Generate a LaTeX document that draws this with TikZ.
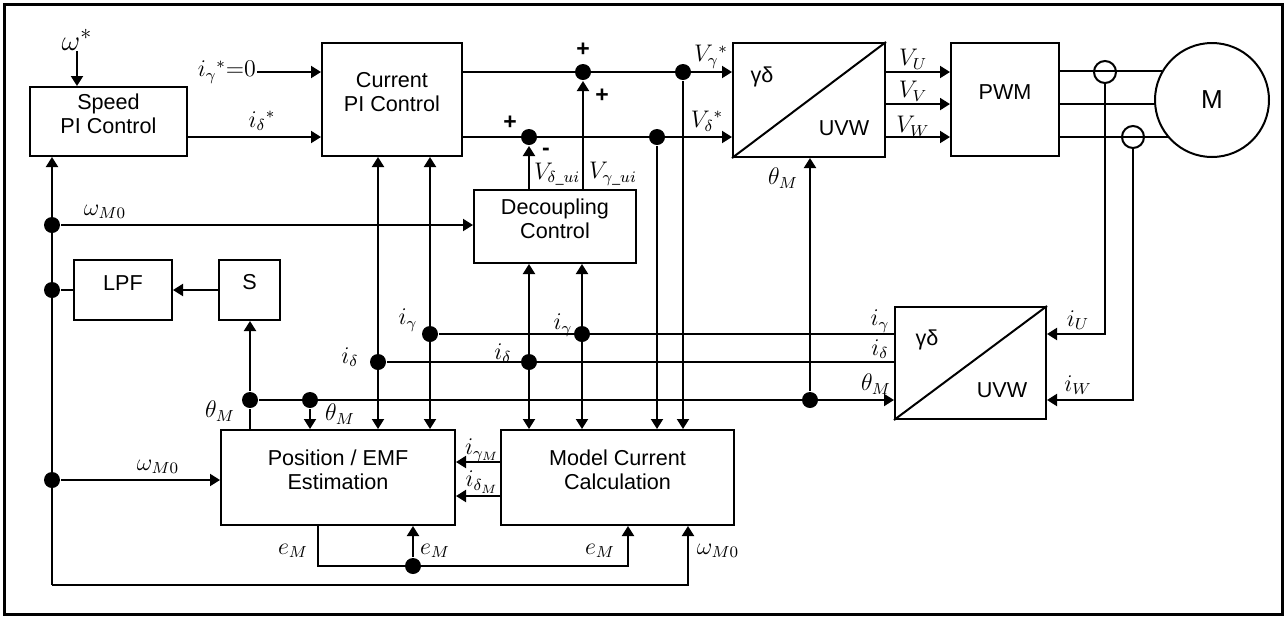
\documentclass[tikz,border=0pt]{standalone}
\usepackage[no-math]{fontspec}
\setmainfont{Liberation Sans}
\usetikzlibrary{arrows.meta,fit}

\tikzset{
  blk/.style={draw, line width=1pt, inner sep=0pt, align=center},
  dot/.style={circle, fill, inner sep=0pt, minimum size=8pt},
  sens/.style={circle, draw, line width=1pt, inner sep=0pt, minimum size=11pt},
  arr/.style={-{Triangle[length=5pt,width=6pt]}},
  arrs/.style={{Triangle[length=5pt,width=6pt]}-{Triangle[length=5pt,width=6pt]}},
  lab/.style={inner sep=0pt, font=\fontsize{11.5}{13}\selectfont},
}

\begin{document}
\begin{tikzpicture}[x=0.5pt,y=-0.5pt,line width=1pt,font=\fontsize{10.8}{11.8}\selectfont]
  \useasboundingbox (0,0) rectangle (1287,617);
  \draw[line width=1.5pt] (4,4) rectangle (1282,614);

  % blocks
  \node[blk, fit={(30,87) (187,156)}] (spd) {Speed\\PI Control};
  \node[blk, fit={(322,43) (462,156)}] (cur) {Current\\PI Control};
  \node[blk, fit={(474,190) (636,263)}] (dec) {Decoupling\\Control};
  \node[blk, fit={(733,43) (885,157)}] (tr1) {};
  \node[blk, fit={(951,43) (1059,156)}] (pwm) {PWM};
  \node[circle, draw, inner sep=0pt, minimum size=57pt, font=\fontsize{13}{14}\selectfont] (mot) at (1212,100) {M};
  \node[blk, fit={(74,260) (172,320)}] (lpf) {LPF};
  \node[blk, fit={(219,260) (280,320)}] (sbx) {S};
  \node[blk, fit={(895,307) (1046,419)}] (tr2) {};
  \node[blk, fit={(221,430) (455,525)}] (pos) {Position / EMF\\Estimation};
  \node[blk, fit={(501,430) (734,525)}] (mdl) {Model Current\\Calculation};
  \draw (tr1.south west) -- (tr1.north east);
  \draw (tr2.south west) -- (tr2.north east);
  \node at (762,77) {γδ};
  \node at (844,128) {UVW};
  \node at (927,340) {γδ};
  \node at (1002,390) {UVW};

  % current sensors
  \node[sens] (cs1) at (1105,72) {};
  \node[sens] (cs2) at (1133,137) {};

  % junctions
  \node[dot] (jsum1) at (583,72) {};
  \node[dot] (jsum2) at (529,137) {};
  \node[dot] (jv1) at (683,72) {};
  \node[dot] (jv2) at (657,137) {};
  \node[dot] (jw1) at (52,225) {};
  \node[dot] (jw2) at (52,290) {};
  \node[dot] (jw3) at (52,480) {};
  \node[dot] (jt1) at (250,400) {};
  \node[dot] (jt2) at (310,400) {};
  \node[dot] (jt3) at (810,400) {};
  \node[dot] (jg1) at (430,334) {};
  \node[dot] (jg2) at (582,334) {};
  \node[dot] (jd1) at (378,362) {};
  \node[dot] (jd2) at (529,362) {};
  \node[dot] (je) at (413,566) {};
  \coordinate (cnr) at (52,585);
  \coordinate (wb) at (688,585);
  \coordinate (e0) at (318,566);
  \coordinate (e1) at (628,566);
  \coordinate (gm) at (501,462);
  \coordinate (dm) at (501,496);

  % labels
  \node[lab, font=\fontsize{15}{16}\selectfont] (lw) at (77,40) {$\omega^*$};
  \node[lab, anchor=east] (lig) at (257,72) {$i_\gamma{}^*{=}0$};
  \node[lab] (lid) at (262,121) {$i_\delta{}^*$};
  \node[lab] (lvg) at (711,57) {$V_\gamma{}^*$};
  \node[lab] (lvd) at (707,121) {$V_\delta{}^*$};
  \node[lab] (pl1) at (583,50) {\textbf{+}};
  \node[lab] (pl2) at (602,96) {\textbf{+}};
  \node[lab] (pl3) at (510,123) {\textbf{+}};
  \node[lab] (mi1) at (546,152) {\textbf{-}};
  \node[lab, anchor=west] (lvdu) at (533,174) {$V_{\delta\mbox{\scriptsize\_}ui}$};
  \node[lab, anchor=west] (lvgu) at (588,174) {$V_{\gamma\mbox{\scriptsize\_}ui}$};
  \node[lab] (lt1) at (783,178) {$\theta_M$};
  \node[lab] (lvu) at (913,59) {$V_U$};
  \node[lab] (lvv) at (913,91) {$V_V$};
  \node[lab] (lvw) at (913,126) {$V_W$};
  \node[lab] (lig2) at (880,321) {$i_\gamma$};
  \node[lab] (lid2) at (880,349) {$i_\delta$};
  \node[lab] (lt2) at (876,384) {$\theta_M$};
  \node[lab] (liu) at (1078,320) {$i_U$};
  \node[lab] (liw) at (1078,385) {$i_W$};
  \node[lab] (lw1) at (105,212) {$\omega_{M0}$};
  \node[lab] (lig3) at (408,320) {$i_\gamma$};
  \node[lab] (lid3) at (350,357) {$i_\delta$};
  \node[lab] (lig4) at (563,325) {$i_\gamma$};
  \node[lab] (lid4) at (503,353) {$i_\delta$};
  \node[lab] (lt3) at (220,411) {$\theta_M$};
  \node[lab] (lt4) at (340,414) {$\theta_M$};
  \node[lab] (lw2) at (158,467) {$\omega_{M0}$};
  \node[lab] (ligm) at (482,450) {$i_{\gamma_M}$};
  \node[lab] (lidm) at (482,482) {$i_{\delta_M}$};
  \node[lab] (le1) at (293,551) {$e_M$};
  \node[lab] (le2) at (435,551) {$e_M$};
  \node[lab] (le3) at (600,551) {$e_M$};
  \node[lab] (lw3) at (718,551) {$\omega_{M0}$};

  % top path
  \draw[arr] (lw.south) -- (lw.south |- spd.north);
  \draw[arr] (lig) -- (lig -| cur.west);
  \draw[arr] (spd.east |- jsum2) -- (cur.west |- jsum2);
  \draw[arr] (cur.east |- jsum1) -- (tr1.west |- jsum1);
  \draw[arr] (cur.east |- jsum2) -- (tr1.west |- jsum2);
  \draw[arr] (dec.north -| jsum1) -- (jsum1);
  \draw[arr] (dec.north -| jsum2) -- (jsum2);
  \draw[arr] (jv1) -- (jv1 |- mdl.north);
  \draw[arr] (jv2) -- (jv2 |- mdl.north);
  \draw[arr] (tr1.east |- jsum1) -- (pwm.west |- jsum1);
  \draw[arr] (tr1.east |- mot.184) -- (pwm.west |- mot.184);
  \draw[arr] (tr1.east |- jsum2) -- (pwm.west |- jsum2);
  \draw (pwm.east |- mot.150.6) -- (mot.150.6);
  \draw (pwm.east |- mot.184) -- (mot.184);
  \draw (pwm.east |- mot.220.5) -- (mot.220.5);
  \draw[arr] (cs1.south) |- (tr2.east |- jg1);
  \draw[arr] (cs2.south) |- (tr2.east |- jt3);

  % feedback
  \draw[arr] (cnr) -- (cnr |- spd.south);
  \draw[arr] (jw1) -- (dec.west |- jw1);
  \draw (lpf.west) -- (jw2);
  \draw[arr] (sbx.west) -- (lpf.east);
  \draw[arr] (jw3) -- (pos.west |- jw3);
  \draw[arr] (jt1) -- (jt1 |- sbx.south);
  \draw (jt1) -- (jt1 |- pos.north);
  \draw[arr] (jt2) -- (jt2 |- pos.north);
  \draw[arr] (jt1) -- (tr2.west |- jt1);
  \draw[arr] (jt3) -- (jt3 |- tr1.south);
  \draw (jg1) -- (tr2.west |- jg1);
  \draw (jd1) -- (tr2.west |- jd1);
  \draw[arrs] (jd1 |- pos.north) -- (jd1 |- cur.south);
  \draw[arrs] (jg1 |- pos.north) -- (jg1 |- cur.south);
  \draw[arrs] (jd2 |- mdl.north) -- (jd2 |- dec.south);
  \draw[arrs] (jg2 |- mdl.north) -- (jg2 |- dec.south);
  \draw[arr] (gm) -- (gm -| pos.east);
  \draw[arr] (dm) -- (dm -| pos.east);
  \draw[arr] (e0 |- pos.south) -- (e0) -- (e1) -- (e1 |- mdl.south);
  \draw[arr] (je) -- (je |- pos.south);
  \draw[arr] (cnr) -- (wb) -- (wb |- mdl.south);
\end{tikzpicture}
\end{document}
